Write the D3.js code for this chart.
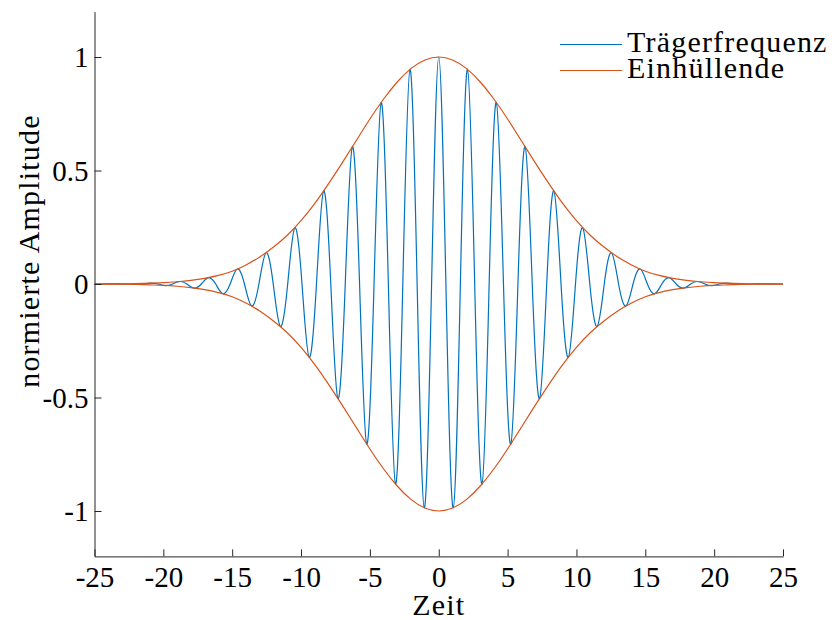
<!DOCTYPE html>
<meta charset="utf-8">
<script src="https://d3js.org/d3.v7.min.js"></script>
<style>
  body { margin: 0; background: #fff; }
  text { font-family: "Liberation Serif", serif; }
  .label { font-size: 30px; letter-spacing: 1.2px; }
</style>
<div id="my_dataviz"></div>
<script>

// envelope (time -25..25, step 1)
var envTime = [-25,-24,-23,-22,-21,-20,-19,-18,-17,-16,-15,-14,-13,-12,-11,-10,-9,-8,-7,-6,-5,-4,-3,-2,-1,
  0,1,2,3,4,5,6,7,8,9,10,11,12,13,14,15,16,17,18,19,20,21,22,23,24,25];
var envValue = [0.000,0.001,0.001,0.002,0.004,0.006,0.010,0.016,0.025,0.038,0.056,0.084,0.119,0.163,0.215,0.279,0.355,0.442,0.535,0.631,0.727,0.815,0.891,0.950,0.987,
  1.000,0.987,0.950,0.891,0.815,0.727,0.631,0.535,0.442,0.355,0.279,0.215,0.163,0.119,0.084,0.056,0.038,0.025,0.016,0.010,0.006,0.004,0.002,0.001,0.001,0.000];

// carrier: extrema (time, value) and the points where it is zero
var peakTime = [-21.95,-20.90,-19.86,-18.81,-17.77,-16.72,-15.68,-14.63,-13.59,-12.54,-11.50,-10.45,-9.41,-8.36,-7.32,-6.27,-5.23,-4.18,-3.14,-2.09,-1.05,
  0,1.05,2.09,3.14,4.18,5.23,6.27,7.32,8.36,9.41,10.45,11.50,12.54,13.59,14.63,15.68,16.72,17.77,18.81,19.86,20.90,21.95];
var peakValue = [-0.002,0.004,-0.007,0.011,-0.018,0.028,-0.043,0.066,-0.097,0.138,-0.187,0.248,-0.323,0.410,-0.505,0.605,-0.706,0.800,-0.882,0.946,-0.986,
  1.000,-0.986,0.946,-0.882,0.800,-0.706,0.605,-0.505,0.410,-0.323,0.248,-0.187,0.138,-0.097,0.066,-0.043,0.028,-0.018,0.011,-0.007,0.004,-0.002];
var zeroTime = [-25,-22.47,-21.42,-20.38,-19.33,-18.29,-17.24,-16.20,-15.15,-14.11,-13.06,-12.02,-10.97,-9.93,-8.88,-7.84,-6.79,-5.75,-4.70,-3.66,-2.61,-1.57,-0.52,
  0.52,1.57,2.61,3.66,4.70,5.75,6.79,7.84,8.88,9.93,10.97,12.02,13.06,14.11,15.15,16.20,17.24,18.29,19.33,20.38,21.42,22.47,25];

var xTicks = [-25,-20,-15,-10,-5,0,5,10,15,20,25];
var yTicks = [-1,-0.5,0,0.5,1];
var seriesNames = ["Trägerfrequenz", "Einhüllende"];
var colors = ["#0072BD", "#D95319"];

var W = 832, H = 620;
var margin = {top: 11.6, right: 49, bottom: 63.6, left: 94.5},
    width = W - margin.left - margin.right,
    height = H - margin.top - margin.bottom;

var svg = d3.select("#my_dataviz")
  .append("svg")
    .attr("width", W)
    .attr("height", H)
  .append("g")
    .attr("transform", "translate(" + margin.left + "," + margin.top + ")");

var x = d3.scaleLinear().domain([-25, 25]).range([0, width]);
var y = d3.scaleLinear().domain([-1.2, 1.2]).range([height, 0]);

// build the carrier point list
var carrier = peakTime.map(function(t, i) { return [t, peakValue[i]]; })
  .concat(zeroTime.map(function(t) { return [t, 0]; }))
  .sort(function(a, b) { return a[0] - b[0]; });
var env = envTime.map(function(t, i) { return [t, envValue[i]]; });
var envLow = envTime.map(function(t, i) { return [t, -envValue[i]]; });

var line = d3.line()
  .x(function(d) { return x(d[0]); })
  .y(function(d) { return y(d[1]); })
  .curve(d3.curveNatural);

svg.append("path").datum(carrier)
  .attr("fill", "none").attr("stroke", colors[0]).attr("stroke-width", 1.2)
  .attr("d", line);
svg.append("path").datum(env)
  .attr("fill", "none").attr("stroke", colors[1]).attr("stroke-width", 1.2)
  .attr("d", line);
svg.append("path").datum(envLow)
  .attr("fill", "none").attr("stroke", colors[1]).attr("stroke-width", 1.2)
  .attr("d", line);

// axes, ticks pointing inward
var xAxis = svg.append("g")
  .attr("transform", "translate(0," + height + ")")
  .call(d3.axisBottom(x).tickValues(xTicks).tickSizeInner(-7).tickSizeOuter(0).tickPadding(10)
    .tickFormat(function(d) { return String(d); }));
var yAxis = svg.append("g")
  .call(d3.axisLeft(y).tickValues(yTicks).tickSizeInner(-7).tickSizeOuter(0).tickPadding(6)
    .tickFormat(function(d) { return String(d); }));

[xAxis, yAxis].forEach(function(a) {
  a.attr("font-family", null).attr("font-size", null);
  a.selectAll("path, line").attr("stroke", "#262626");
  a.selectAll("text").attr("fill", "#000").style("font-size", "29px");
});
yAxis.selectAll("text").attr("dy", "0.33em");

// axis titles
svg.append("text").attr("class", "label")
  .attr("x", x(0)).attr("y", 615 - margin.top)
  .attr("text-anchor", "middle")
  .text("Zeit");
svg.append("text").attr("class", "label")
  .attr("transform", "translate(" + (38.5 - margin.left) + "," + (251 - margin.top) + ") rotate(-90)")
  .attr("text-anchor", "middle")
  .text("normierte Amplitude");

// legend
var legend = svg.append("g").attr("transform", "translate(" + (560 - margin.left) + "," + (44.5 - margin.top) + ")");
seriesNames.forEach(function(name, i) {
  legend.append("line")
    .attr("x1", 0).attr("x2", 62).attr("y1", i * 26).attr("y2", i * 26)
    .attr("stroke", colors[i]).attr("stroke-width", 1.2);
  legend.append("text").attr("class", "label")
    .attr("x", 67).attr("y", i * 26 + 7.5)
    .text(name);
});

</script>
